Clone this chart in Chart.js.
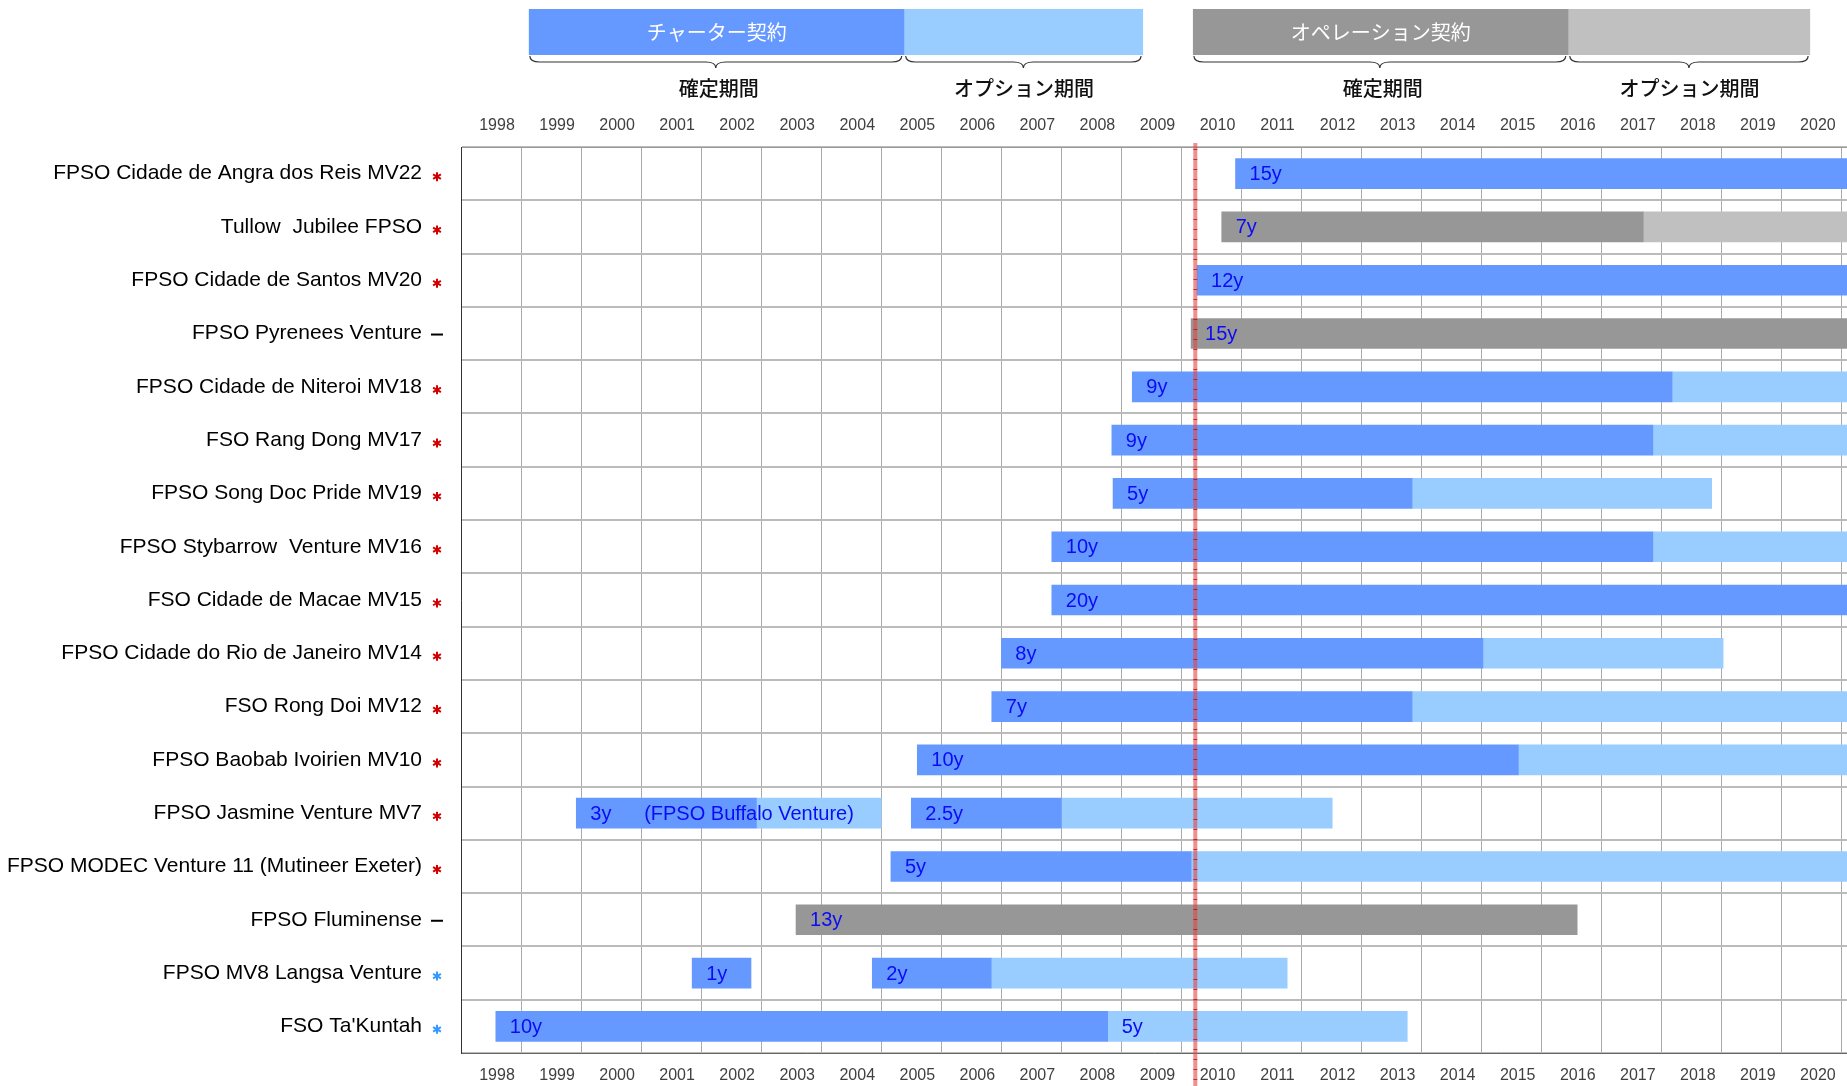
<!DOCTYPE html>
<html>
<head>
<meta charset="utf-8">
<script src="https://cdn.jsdelivr.net/npm/chart.js@4/dist/chart.umd.min.js"></script>
<style>
  html, body { margin: 0; padding: 0; background: #fff; }
</style>
</head>
<body>
<canvas id="gantt" width="1847" height="1086"></canvas>
<script>
// vessels, top row first
const vessels = [
  'FPSO Cidade de Angra dos Reis MV22',
  'Tullow  Jubilee FPSO',
  'FPSO Cidade de Santos MV20',
  'FPSO Pyrenees Venture',
  'FPSO Cidade de Niteroi MV18',
  'FSO Rang Dong MV17',
  'FPSO Song Doc Pride MV19',
  'FPSO Stybarrow  Venture MV16',
  'FSO Cidade de Macae MV15',
  'FPSO Cidade do Rio de Janeiro MV14',
  'FSO Rong Doi MV12',
  'FPSO Baobab Ivoirien MV10',
  'FPSO Jasmine Venture MV7',
  'FPSO MODEC Venture 11 (Mutineer Exeter)',
  'FPSO Fluminense',
  'FPSO MV8 Langsa Venture',
  "FSO Ta'Kuntah"
];
// mark after each name: r = red asterisk, b = blue asterisk, d = dash
const marks = ['r', 'r', 'r', 'd', 'r', 'r', 'r', 'r', 'r', 'r', 'r', 'r', 'r', 'r', 'd', 'b', 'b'];

const yearLabels = ['1998', '1999', '2000', '2001', '2002', '2003', '2004', '2005', '2006', '2007', '2008',
  '2009', '2010', '2011', '2012', '2013', '2014', '2015', '2016', '2017', '2018', '2019', '2020'];

// contract periods in decimal years [start, end]
const charterFirm = [
  [2010.90, 2025.90], null, [2010.26, 2022.26], null, [2009.18, 2018.17], [2008.84, 2017.85],
  [2008.86, 2013.84], [2007.84, 2017.85], [2007.84, 2027.84], [2007.00, 2015.02], [2006.84, 2013.84],
  [2005.60, 2015.61], [1999.92, 2002.92], [2005.16, 2010.16], null, [2001.85, 2002.83], [1998.58, 2008.77]
];
const charterOption = [
  null, null, null, null, [2018.17, 2023.17], [2017.85, 2022.85],
  [2013.84, 2018.83], [2017.85, 2022.85], null, [2015.02, 2019.02], [2013.84, 2023.84],
  [2015.61, 2025.61], [2002.92, 2005.00], [2010.16, 2025.16], null, null, [2008.77, 2013.76]
];
// second charter (Jasmine as MV7, Langsa)
const charterFirm2 = [
  null, null, null, null, null, null, null, null, null, null, null, null,
  [2005.50, 2008.00], null, null, [2004.85, 2006.83], null
];
const charterOption2 = [
  null, null, null, null, null, null, null, null, null, null, null, null,
  [2008.00, 2012.51], null, null, [2006.83, 2011.76], null
];
const operationFirm = [
  null, [2010.67, 2017.69], null, [2010.16, 2025.16], null, null, null, null, null, null, null, null,
  null, null, [2003.58, 2016.59], null, null
];
const operationOption = [
  null, [2017.69, 2022.69], null, null, null, null, null, null, null, null, null, null,
  null, null, null, null, null
];

const firmText = ['15y', '', '12y', '', '9y', '9y', '5y', '10y', '20y', '8y', '7y', '10y', '3y', '5y', '', '1y', '10y'];
const optionText = ['', '', '', '', '', '', '', '', '', '', '', '', '', '', '', '', '5y'];
const firm2Text = ['', '', '', '', '', '', '', '', '', '', '', '', '2.5y', '', '', '2y', ''];
const operationText = ['', '7y', '', '15y', '', '', '', '', '', '', '', '', '', '', '13y', '', ''];

const noteText = '(FPSO Buffalo Venture)';
const noteRow = 12;
const noteAt = 2001.05;

const today = 2010.23;

// header legend
const headerBands = [
  { title: 'チャーター契約', firm: [1999.13, 2005.39], option: [2005.39, 2009.36] },
  { title: 'オペレーション契約', firm: [2010.19, 2016.45], option: [2016.45, 2020.47] }
];
const periodNames = ['確定期間', 'オプション期間'];

const BLUE = '#6699FF', LIGHTBLUE = '#99CCFF', GREY = '#979797', LIGHTGREY = '#C0C0C0';
const xMin = 1998, xMax = 2021.084;
const yearTicks = [];
for (let y = 1998; y <= 2021; y++) yearTicks.push(y);

Chart.defaults.font.family = '"Liberation Sans", Arial, sans-serif';

function bars(data, color, texts) {
  return {
    data: data,
    texts: texts,
    backgroundColor: color,
    borderWidth: 0,
    barThickness: 30,
    grouped: false
  };
}

function drawBrace(ctx, x1, x2, y, h) {
  const mid = (x1 + x2) / 2, q = 10, m = y + h / 2;
  ctx.beginPath();
  ctx.moveTo(x1, y);
  ctx.quadraticCurveTo(x1, m, x1 + q, m);
  ctx.lineTo(mid - q, m);
  ctx.quadraticCurveTo(mid, m, mid, y + h);
  ctx.quadraticCurveTo(mid, m, mid + q, m);
  ctx.lineTo(x2 - q, m);
  ctx.quadraticCurveTo(x2, m, x2, y);
  ctx.stroke();
}

const ganttDecor = {
  id: 'ganttDecor',
  afterDatasetsDraw(chart) {
    const { ctx, chartArea } = chart;
    const x = chart.scales.x, y = chart.scales.y;

    // current date line
    const tx = x.getPixelForValue(today);
    ctx.save();
    ctx.fillStyle = 'rgba(226, 70, 70, 0.6)';
    ctx.fillRect(tx - 2, chartArea.top - 4, 4, chart.height - chartArea.top + 4);
    ctx.strokeStyle = 'rgba(190, 0, 0, 0.7)';
    ctx.lineWidth = 1;
    ctx.beginPath();
    for (let yy = chartArea.top + 2; yy < chart.height; yy += 10) {
      ctx.moveTo(tx - 2, yy + 0.5);
      ctx.lineTo(tx + 2, yy + 0.5);
    }
    ctx.stroke();
    ctx.restore();

    // bar texts
    ctx.save();
    ctx.font = '20px "Liberation Sans", Arial, sans-serif';
    ctx.fillStyle = '#0c0cf4';
    ctx.textBaseline = 'middle';
    chart.data.datasets.forEach(ds => {
      if (!ds.texts) return;
      ds.data.forEach((d, i) => {
        if (!d || !ds.texts[i]) return;
        ctx.fillText(ds.texts[i], x.getPixelForValue(d[0]) + 14, y.getPixelForValue(i) + 1);
      });
    });
    ctx.fillText(noteText, x.getPixelForValue(noteAt), y.getPixelForValue(noteRow) + 1);
    ctx.restore();
  },
  afterDraw(chart) {
    const { ctx } = chart;
    const x = chart.scales.x, y = chart.scales.y;

    // marks after names
    ctx.save();
    marks.forEach((m, i) => {
      const cy = y.getPixelForValue(i);
      const cx = 437;
      if (m === 'd') {
        ctx.strokeStyle = '#000';
        ctx.lineWidth = 2;
        ctx.beginPath();
        ctx.moveTo(cx - 6, cy + 1);
        ctx.lineTo(cx + 6, cy + 1);
        ctx.stroke();
      } else {
        ctx.strokeStyle = m === 'r' ? '#d00000' : '#3399ff';
        ctx.lineWidth = 2;
        ctx.beginPath();
        for (let k = 0; k < 3; k++) {
          const a = Math.PI / 2 + k * Math.PI / 3;
          ctx.moveTo(cx - 4.5 * Math.cos(a), cy + 3 - 4.5 * Math.sin(a));
          ctx.lineTo(cx + 4.5 * Math.cos(a), cy + 3 + 4.5 * Math.sin(a));
        }
        ctx.stroke();
      }
    });

    // header legend
    headerBands.forEach((b, n) => {
      const fx1 = x.getPixelForValue(b.firm[0]), fx2 = x.getPixelForValue(b.firm[1]);
      const ox2 = x.getPixelForValue(b.option[1]);
      ctx.fillStyle = n === 0 ? BLUE : GREY;
      ctx.fillRect(fx1, 9, fx2 - fx1, 46);
      ctx.fillStyle = n === 0 ? LIGHTBLUE : LIGHTGREY;
      ctx.fillRect(fx2, 9, ox2 - fx2, 46);
      ctx.fillStyle = '#fff';
      ctx.font = '20px "Noto Sans CJK JP", sans-serif';
      ctx.textAlign = 'center';
      ctx.textBaseline = 'middle';
      ctx.fillText(b.title, (fx1 + fx2) / 2, 32);

      ctx.strokeStyle = '#333';
      ctx.lineWidth = 1.2;
      drawBrace(ctx, fx1 + 1, fx2 - 3, 56, 12);
      drawBrace(ctx, fx2 + 1, ox2 - 2, 56, 12);

      ctx.fillStyle = '#111';
      ctx.font = '500 20px "Noto Sans CJK JP", sans-serif';
      ctx.fillText(periodNames[0], (fx1 + fx2) / 2 + 2, 88);
      ctx.fillText(periodNames[1], (fx2 + ox2) / 2, 88);
    });
    ctx.restore();
  }
};

const xAxisBase = {
  type: 'linear',
  min: xMin,
  max: xMax,
  afterBuildTicks: axis => { axis.ticks = yearTicks.map(v => ({ value: v })); },
  ticks: {
    autoSkip: false,
    maxRotation: 0,
    labelOffset: 36,
    color: '#404040',
    font: { size: 16 },
    callback: (v, i) => yearLabels[i] || ''
  }
};

function fixHeight(h) {
  return axis => {
    axis.height = h;
    axis.paddingLeft = 0;
    axis.paddingRight = 0;
  };
}

new Chart(document.getElementById('gantt'), {
  type: 'bar',
  data: {
    labels: vessels,
    datasets: [
      bars(charterFirm, BLUE, firmText),
      bars(charterOption, LIGHTBLUE, optionText),
      bars(charterFirm2, BLUE, firm2Text),
      bars(charterOption2, LIGHTBLUE, null),
      bars(operationFirm, GREY, operationText),
      bars(operationOption, LIGHTGREY, null)
    ]
  },
  options: {
    indexAxis: 'y',
    responsive: false,
    animation: false,
    layout: { padding: { top: 107, bottom: 0, left: 0, right: 0 } },
    plugins: { legend: { display: false }, tooltip: { enabled: false } },
    scales: {
      x: Object.assign({}, xAxisBase, {
        position: 'bottom',
        afterFit: fixHeight(33),
        grid: { color: '#aaa', lineWidth: 1, drawTicks: false },
        border: { color: '#666', width: 1 },
        ticks: Object.assign({}, xAxisBase.ticks, { padding: 13 })
      }),
      xTop: Object.assign({}, xAxisBase, {
        position: 'top',
        afterFit: fixHeight(40),
        grid: { display: false, drawTicks: false },
        border: { color: '#999', width: 1 },
        ticks: Object.assign({}, xAxisBase.ticks, { padding: 12 })
      }),
      y: {
        type: 'category',
        afterFit: axis => {
          axis.width = 461;
          axis.paddingTop = 0;
          axis.paddingBottom = 0;
        },
        grid: { color: '#bbb', lineWidth: 2, offset: true, drawTicks: false },
        border: { color: '#333', width: 1 },
        ticks: { padding: 39, color: '#000', font: { size: 21 } }
      }
    }
  },
  plugins: [ganttDecor]
});
</script>
</body>
</html>
